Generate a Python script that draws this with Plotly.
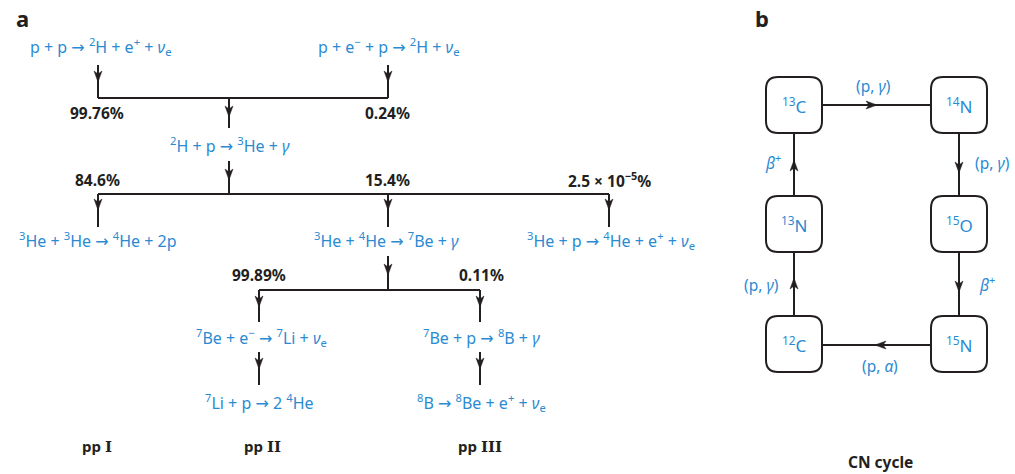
import plotly.graph_objects as go

BLUE = "#2a8ad2"
INK = "#231f20"
SANS = "Noto Sans"
SERIF = "DejaVu Serif"

# ---- (a) proton-proton chain -------------------------------------------
nu = "<i>ν</i><sub>e</sub>"
to = "<span style='font-family:DejaVu Sans'>→</span>"
pp_reactions = [
    f"p + p {to} <sup>2</sup>H + e<sup>+</sup> + {nu}",
    f"p + e<sup>−</sup> + p {to} <sup>2</sup>H + {nu}",
    f"<sup>2</sup>H + p {to} <sup>3</sup>He + <i>γ</i>",
    f"<sup>3</sup>He + <sup>3</sup>He {to} <sup>4</sup>He + 2p",
    f"<sup>3</sup>He + <sup>4</sup>He {to} <sup>7</sup>Be + <i>γ</i>",
    f"<sup>3</sup>He + p {to} <sup>4</sup>He + e<sup>+</sup> + {nu}",
    f"<sup>7</sup>Be + e<sup>−</sup> {to} <sup>7</sup>Li + {nu}",
    f"<sup>7</sup>Be + p {to} <sup>8</sup>B + <i>γ</i>",
    f"<sup>7</sup>Li + p {to} 2 <sup>4</sup>He",
    f"<sup>8</sup>B {to} <sup>8</sup>Be + e<sup>+</sup> + {nu}",
]
branch_pct = ["99.76%", "0.24%", "84.6%", "15.4%",
              "2.5 × 10<sup>−5</sup>%", "99.89%", "0.11%"]
chain_names = ["pp", "pp", "pp"]
chain_numerals = ["I", "II", "III"]

# ---- (b) CNO cycle -----------------------------------------------------
cn_nuclei = ["<sup>13</sup>C", "<sup>14</sup>N", "<sup>13</sup>N",
             "<sup>15</sup>O", "<sup>12</sup>C", "<sup>15</sup>N"]
cn_steps = ["(p, <i>γ</i>)", "(p, <i>γ</i>)", "<i>β</i><sup>+</sup>",
            "(p, <i>α</i>)", "(p, <i>γ</i>)", "<i>β</i><sup>+</sup>"]

# ---- layout geometry (page pixels) -------------------------------------
reaction_xy = [(100, 46), (388, 46), (230, 145), (98, 240), (386, 240),
               (611, 240), (261, 337), (481, 337), (259, 402), (481, 402)]
branch_xy = [(97, 113), (387, 113), (97, 180), (387, 180), (609, 180),
             (259, 275), (481, 275)]
chain_x = [97, 262, 480]
chain_y = 446

pp_lines = [
    ((98, 65), (98, 98)), ((388, 65), (388, 98)), ((98, 98), (388, 98)),
    ((229, 98), (229, 128)),
    ((229, 161), (229, 194)), ((98, 194), (609, 194)),
    ((98, 194), (98, 227)), ((388, 194), (388, 227)), ((609, 194), (609, 227)),
    ((388, 256), (388, 290)), ((259, 290), (480, 290)),
    ((259, 290), (259, 322)), ((480, 290), (480, 322)),
    ((259, 352), (259, 385)), ((480, 352), (480, 385)),
]
# arrow tips: (x, y, direction)
pp_tips = [(98, 82, "d"), (388, 82, "d"), (229, 117, "d"), (229, 180, "d"),
           (98, 210, "d"), (388, 210, "d"), (609, 210, "d"), (388, 275, "d"),
           (259, 307, "d"), (480, 307, "d"), (259, 369, "d"), (480, 369, "d")]

box_cx = [794, 959, 794, 959, 794, 959]
box_cy = [105, 105, 224, 224, 344, 344]
BOX = 56
RAD = 12

cn_lines = [((822, 105), (931, 105)), ((959, 133), (959, 196)),
            ((959, 252), (959, 316)), ((931, 345), (822, 345)),
            ((794, 316), (794, 252)), ((794, 196), (794, 133))]
cn_tips = [(877, 105, "r"), (959, 173, "d"), (959, 292, "d"),
           (875, 345, "l"), (794, 278, "u"), (794, 160, "u")]
cn_step_xy = [(873, 86), (992, 163), (987, 284), (880, 366),
              (761, 285), (773, 162)]

fig = go.Figure()


def arrowhead(x, y, d, w=4.0, h=11.0, notch=3.0):
    """Stealth-style arrowhead whose tip sits at (x, y)."""
    if d == "d":
        pts = [(x, y), (x - w, y - h), (x, y - h + notch), (x + w, y - h)]
    elif d == "u":
        pts = [(x, y), (x - w, y + h), (x, y + h - notch), (x + w, y + h)]
    elif d == "r":
        pts = [(x, y), (x - h, y - w), (x - h + notch, y), (x - h, y + w)]
    else:
        pts = [(x, y), (x + h, y - w), (x + h - notch, y), (x + h, y + w)]
    path = "M " + " L ".join(f"{px},{py}" for px, py in pts) + " Z"
    return dict(type="path", path=path, fillcolor=INK,
                line=dict(color=INK, width=0.5), layer="above")


def segment(a, b):
    return dict(type="line", x0=a[0], y0=a[1], x1=b[0], y1=b[1],
                line=dict(color=INK, width=2), layer="above")


def rounded_box(cx, cy, s=BOX, r=RAD):
    x0, x1 = cx - s / 2, cx + s / 2
    y0, y1 = cy - s / 2, cy + s / 2
    p = (f"M {x0 + r},{y0} L {x1 - r},{y0} Q {x1},{y0} {x1},{y0 + r} "
         f"L {x1},{y1 - r} Q {x1},{y1} {x1 - r},{y1} "
         f"L {x0 + r},{y1} Q {x0},{y1} {x0},{y1 - r} "
         f"L {x0},{y0 + r} Q {x0},{y0} {x0 + r},{y0} Z")
    return dict(type="path", path=p, fillcolor="white",
                line=dict(color=INK, width=2), layer="above")


shapes = []
for a, b in pp_lines + cn_lines:
    shapes.append(segment(a, b))
for x, y, d in pp_tips + cn_tips:
    shapes.append(arrowhead(x, y, d))
for cx, cy in zip(box_cx, box_cy):
    shapes.append(rounded_box(cx, cy))

annotations = []


def label(text, x, y, color, size, family=SANS, xanchor="center"):
    annotations.append(dict(text=text, x=x, y=y, xref="x", yref="y",
                            showarrow=False, xanchor=xanchor, yanchor="middle",
                            font=dict(family=family, size=size, color=color)))


label("<b>a</b>", 14, 18, INK, 22, xanchor="left")
label("<b>b</b>", 753, 18, INK, 22, xanchor="left")

for txt, (x, y) in zip(pp_reactions, reaction_xy):
    label(txt, x, y, BLUE, 16)
for txt, (x, y) in zip(branch_pct, branch_xy):
    label(f"<b>{txt}</b>", x, y, INK, 15.5)
for name, num, x in zip(chain_names, chain_numerals, chain_x):
    label(f"<b>{name} <span style='font-family:{SERIF}'>{num}</span></b>",
          x, chain_y, INK, 15)

for txt, cx, cy in zip(cn_nuclei, box_cx, box_cy):
    label(txt, cx, cy, BLUE, 17)
for txt, (x, y) in zip(cn_steps, cn_step_xy):
    label(txt, x, y, BLUE, 15.5)
label("<b>CN cycle</b>", 880, 462, INK, 15.5)

fig.update_layout(
    width=1015, height=474,
    margin=dict(l=0, r=0, t=0, b=0),
    paper_bgcolor="white", plot_bgcolor="white",
    xaxis=dict(range=[0, 1015], visible=False, fixedrange=True),
    yaxis=dict(range=[474, 0], visible=False, fixedrange=True),
    shapes=shapes, annotations=annotations, showlegend=False,
)

fig.write_html("out.html")
